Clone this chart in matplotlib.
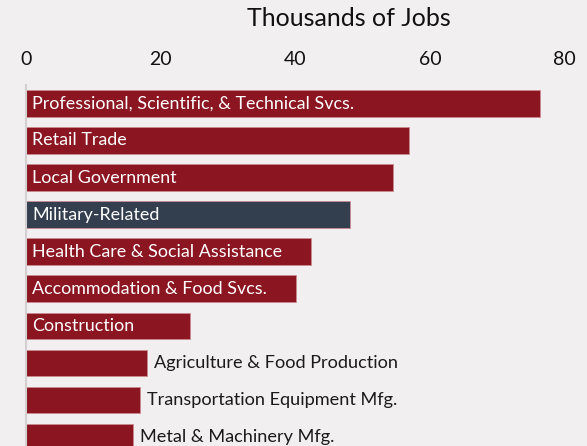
import matplotlib
matplotlib.use("Agg")
import matplotlib.pyplot as plt

# sector job counts (thousands), top to bottom
sectors = [
    "Professional, Scientific, & Technical Svcs.",
    "Retail Trade",
    "Local Government",
    "Military-Related",
    "Health Care & Social Assistance",
    "Accommodation & Food Svcs.",
    "Construction",
    "Agriculture & Food Production",
    "Transportation Equipment Mfg.",
    "Metal & Machinery Mfg.",
]
jobs = [76.3, 56.9, 54.6, 48.1, 42.3, 40.1, 24.4, 18.0, 17.0, 15.9]
highlight = "Military-Related"
n_inside = 7  # labels drawn inside the bar for the first bars

RED = "#8b1520"
SLATE = "#333f4f"
BG = "#f2eff0"

plt.rcParams['font.family'] = ['Lato', 'DejaVu Sans']

fig = plt.figure(figsize=(5.87, 4.46), dpi=100, facecolor=BG)
ax = fig.add_axes([0.0438, 0.0, 0.918, 0.8094])
ax.set_facecolor(BG)

pos = list(range(len(sectors)))
colors = [SLATE if s == highlight else RED for s in sectors]
ax.barh(pos, jobs, height=0.72, color=colors, edgecolor="#c98a90", linewidth=0.6)

for i, (name, val) in enumerate(zip(sectors, jobs)):
    if i < n_inside:
        ax.text(0.95, i, name, color="white", fontsize=12.9, va="center", ha="left")
    else:
        ax.text(val + 1.0, i, name, color="#1a1a1a", fontsize=13.1, va="center", ha="left")

ax.set_xlim(0, 80)
ax.set_ylim(9.237, -0.493)
ax.xaxis.tick_top()
ax.set_xticks([0, 20, 40, 60, 80])
ax.tick_params(axis="x", length=0, labelsize=14, pad=12.5, colors="#111111")
ax.set_yticks([])

for side in ["top", "right", "bottom"]:
    ax.spines[side].set_visible(False)
ax.spines["left"].set_color("#d4d0d1")
ax.spines["left"].set_linewidth(1.5)

fig.text(348.5 / 587, 1 - 19 / 446, "Thousands of Jobs", fontsize=18,
         ha="center", va="center", color="#111111")

fig.savefig("out.png", dpi=100, facecolor=BG)
